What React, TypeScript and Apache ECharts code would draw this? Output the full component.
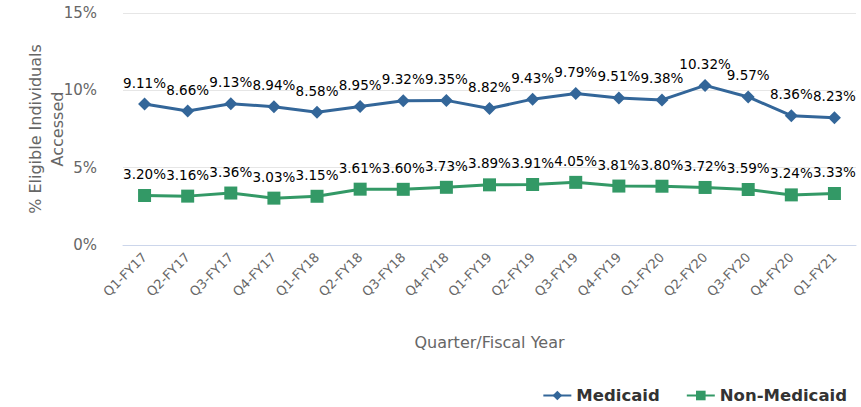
import React, { useEffect, useRef } from "react";
import * as echarts from "echarts";

const categories = [
  "Q1-FY17", "Q2-FY17", "Q3-FY17", "Q4-FY17",
  "Q1-FY18", "Q2-FY18", "Q3-FY18", "Q4-FY18",
  "Q1-FY19", "Q2-FY19", "Q3-FY19", "Q4-FY19",
  "Q1-FY20", "Q2-FY20", "Q3-FY20", "Q4-FY20",
  "Q1-FY21",
];
const medicaid = [9.11, 8.66, 9.13, 8.94, 8.58, 8.95, 9.32, 9.35, 8.82, 9.43, 9.79, 9.51, 9.38, 10.32, 9.57, 8.36, 8.23];
const nonMedicaid = [3.2, 3.16, 3.36, 3.03, 3.15, 3.61, 3.6, 3.73, 3.89, 3.91, 4.05, 3.81, 3.8, 3.72, 3.59, 3.24, 3.33];

const axisFont = "'DejaVu Sans', sans-serif";
const labelFont = "'DejaVu Sans', sans-serif";

export default function App() {
  const ref = useRef<HTMLDivElement>(null);
  useEffect(() => {
    document.body.style.margin = "0";
    if (!ref.current) return;
    const chart = echarts.init(ref.current, undefined, { renderer: "svg" });
    const dataLabel = {
      show: true,
      position: "top" as const,
      distance: 8,
      fontFamily: labelFont,
      fontSize: 13.5,
      color: "#000",
      formatter: (p: any) => p.value.toFixed(2) + "%",
    };
    chart.setOption({
      animation: false,
      grid: { left: 123, right: 5, top: 13, bottom: 162 },
      legend: {
        right: 14,
        bottom: 3,
        padding: 0,
        itemWidth: 28,
        itemHeight: 12,
        itemGap: 26,
        textStyle: { fontFamily: labelFont, fontSize: 16.5, fontWeight: "bold", color: "#333" },
        data: ["Medicaid", "Non-Medicaid"],
      },
      xAxis: {
        type: "category",
        data: categories,
        boundaryGap: true,
        axisLine: { show: true, lineStyle: { color: "#ccd6eb", width: 1 } },
        axisTick: { show: false },
        axisLabel: {
          rotate: 45,
          interval: 0,
          fontFamily: axisFont,
          fontSize: 13,
          color: "#666",
          margin: 10,
        },
        name: "Quarter/Fiscal Year",
        nameLocation: "middle",
        nameGap: 89,
        nameMoveOverlap: false,
        nameTextStyle: { fontFamily: axisFont, fontSize: 16, color: "#666" },
      },
      yAxis: {
        type: "value",
        min: 0,
        max: 15,
        interval: 5,
        axisLabel: {
          formatter: "{value}%",
          fontFamily: axisFont,
          fontSize: 15,
          color: "#666",
          margin: 26,
        },
        splitLine: { lineStyle: { color: "#e6e6e6", width: 1 } },
        axisLine: { show: false },
        axisTick: { show: false },
        name: "% Eligible Individuals\nAccessed",
        nameLocation: "middle",
        nameGap: 55,
        nameMoveOverlap: false,
        nameRotate: 90,
        nameTextStyle: { fontFamily: axisFont, fontSize: 16, color: "#666", lineHeight: 22 },
      },
      series: [
        {
          name: "Medicaid",
          type: "line",
          data: medicaid,
          symbol: "diamond",
          symbolSize: 13,
          lineStyle: { color: "#336699", width: 3 },
          itemStyle: { color: "#336699" },
          label: dataLabel,
        },
        {
          name: "Non-Medicaid",
          type: "line",
          data: nonMedicaid,
          symbol: "rect",
          symbolSize: 13,
          lineStyle: { color: "#339966", width: 3 },
          itemStyle: { color: "#339966" },
          label: dataLabel,
        },
      ],
    });
    return () => chart.dispose();
  }, []);
  return <div ref={ref} style={{ width: 861, height: 407 }} />;
}
